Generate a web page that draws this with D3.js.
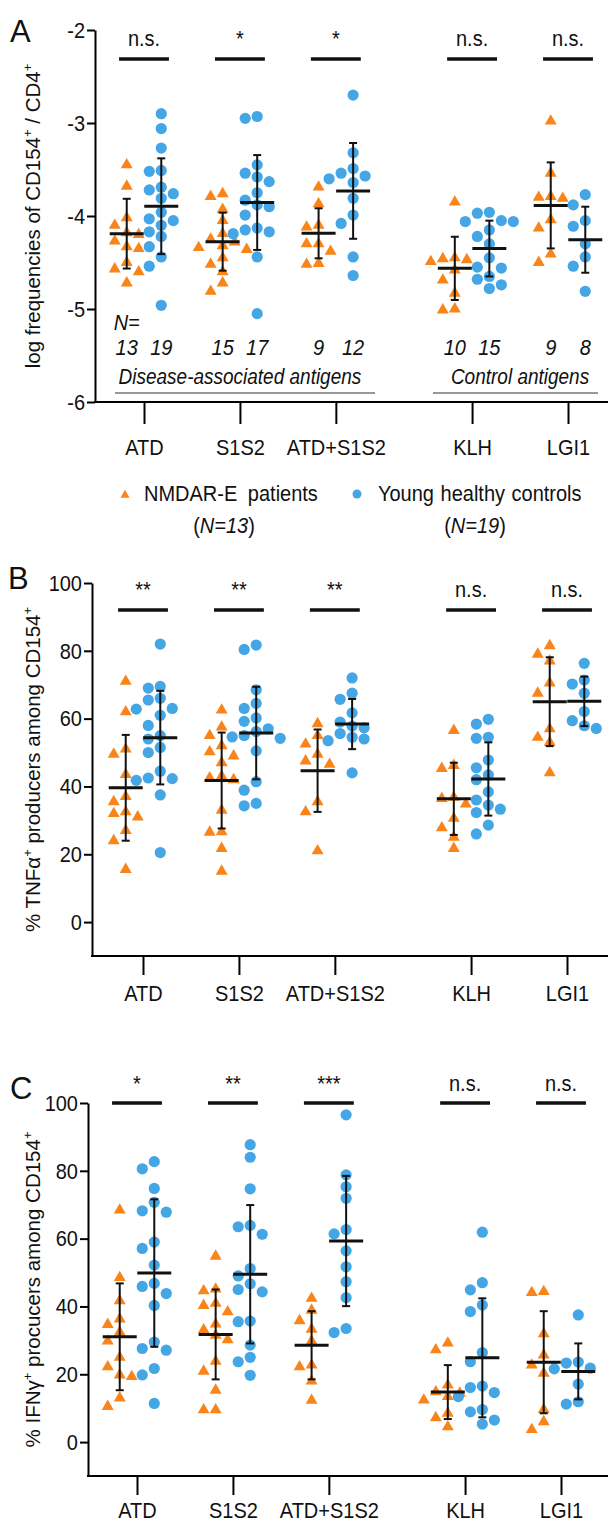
<!DOCTYPE html>
<html>
<head>
<meta charset="utf-8">
<script src="https://cdn.jsdelivr.net/npm/d3@7"></script>
<style>
  body { margin: 0; background: #fff; }
  svg { display: block; font-family: "Liberation Sans", Arial, sans-serif; }
</style>
</head>
<body>
<div id="chart"></div>
<script>
const antigens = ["ATD", "S1S2", "ATD+S1S2", "KLH", "LGI1"];
const nPatients = [13, 15, 9, 10, 9];
const nControls = [19, 17, 12, 15, 8];

// A: log frequencies of CD154+ / CD4+
const freqPatients = [
  [-3.45, -3.68, -4.02, -4.10, -4.18, -4.20, -4.27, -4.33, -4.35, -4.50, -4.57, -4.60, -4.72],
  [-3.76, -3.79, -3.93, -4.05, -4.19, -4.25, -4.28, -4.32, -4.34, -4.36, -4.45, -4.52, -4.60, -4.72, -4.81],
  [-3.69, -3.87, -4.10, -4.12, -4.30, -4.30, -4.38, -4.51, -4.52],
  [-3.85, -4.45, -4.46, -4.47, -4.49, -4.58, -4.69, -4.83, -5.00, -5.01],
  [-2.98, -3.54, -3.79, -3.80, -3.81, -4.04, -4.13, -4.41, -4.50]
];
const freqControls = [
  [-2.90, -3.06, -3.27, -3.51, -3.52, -3.69, -3.72, -3.76, -3.81, -3.96, -4.03, -4.05, -4.10, -4.17, -4.22, -4.33, -4.44, -4.54, -4.96],
  [-2.93, -2.95, -3.45, -3.54, -3.58, -3.63, -3.75, -3.83, -3.88, -3.90, -3.99, -4.13, -4.15, -4.17, -4.19, -4.44, -5.05],
  [-2.70, -3.32, -3.49, -3.54, -3.57, -3.60, -3.64, -3.81, -3.99, -4.08, -4.44, -4.64],
  [-3.96, -3.97, -4.05, -4.06, -4.06, -4.15, -4.22, -4.30, -4.45, -4.55, -4.56, -4.65, -4.68, -4.74, -4.78],
  [-3.77, -3.88, -4.05, -4.11, -4.30, -4.44, -4.54, -4.81]
];
const freqPatientsMean = [-4.19, -4.276, -4.186, -4.563, -3.886];
const freqPatientsSD = [0.375, 0.312, 0.269, 0.34, 0.4625];
const freqControlsMean = [-3.895, -3.855, -3.73, -4.35, -4.255];
const freqControlsSD = [0.515, 0.51, 0.515, 0.30, 0.355];
const freqSig = ["n.s.", "*", "*", "n.s.", "n.s."];

// B: % TNFa+ producers among CD154+
const tnfPatients = [
  [71, 62, 51, 49.5, 43.5, 37, 35.5, 32.5, 32, 31, 27, 24, 15.5],
  [62.5, 57.5, 55, 52, 50.2, 49, 47, 43, 42.5, 42, 33, 26.6, 26.5, 21.7, 15],
  [58.5, 55, 52.5, 49.5, 47.5, 46.5, 35.5, 32.5, 21],
  [56.5, 46.2, 45.3, 36.8, 36.4, 34.8, 30.6, 27.8, 25, 21.7],
  [81.5, 79, 77, 70.5, 67.5, 57, 54.5, 53, 44]
];
const tnfControls = [
  [82, 69.5, 69, 66, 65.5, 63, 62.8, 61, 58, 55, 54, 51.5, 50, 44.5, 42.5, 42.3, 41.8, 37.5, 20.5],
  [81.7, 80.4, 68.5, 64.5, 63, 60.2, 59.2, 57, 56.2, 55, 54.6, 54.2, 50.5, 41.4, 38.9, 35, 34.3],
  [72, 67.5, 65.7, 61.7, 59, 57.8, 57.3, 55.6, 54.5, 54, 53.5, 44],
  [59.8, 58.4, 54.5, 54.2, 47.8, 45.5, 43.4, 42, 38.4, 36, 34.5, 33.3, 32.3, 28.6, 26],
  [76.3, 71.4, 70.2, 67.5, 62.1, 59.4, 57.9, 57.1]
];
const tnfPatientsMean = [39.6, 41.75, 44.65, 36.35, 65.0];
const tnfPatientsSD = [15.6, 14.15, 12.15, 10.65, 13.1];
const tnfControlsMean = [54.4, 55.75, 58.4, 42.2, 65.1];
const tnfControlsSD = [13.8, 13.65, 7.4, 10.8, 7.3];
const tnfSig = ["**", "**", "**", "n.s.", "n.s."];

// C: % IFNg+ producers among CD154+
const ifnPatients = [
  [68.4, 48.5, 41.7, 36.3, 34.7, 32.4, 29.8, 25, 22.2, 19.8, 19.3, 13, 10.5],
  [54.8, 45.1, 44.6, 40.9, 40.3, 38.4, 34.8, 33.1, 31.5, 30.2, 23.8, 20.9, 15.3, 9.5, 9.5],
  [42.4, 38.9, 35.8, 33.3, 29.8, 22.7, 22.2, 18, 12.3],
  [29.2, 27.2, 16.8, 14.8, 14.4, 13.4, 12.4, 8.5, 7.2, 4.5],
  [44.4, 44.1, 31.9, 25.7, 22.7, 20.3, 9.6, 6, 3.7]
];
const ifnControls = [
  [82.7, 80.6, 74.8, 70.7, 68.2, 67.8, 59, 57.1, 52.2, 46.8, 45.9, 43.8, 40.3, 29.5, 27.6, 27.1, 21.7, 19.8, 11.4],
  [87.7, 84, 74.7, 63.9, 63.5, 61.3, 51.2, 49, 46.7, 45, 44.3, 35.7, 35.5, 28.6, 25, 23.7, 19.7],
  [96.5, 78.8, 75.3, 71.9, 62.7, 61.4, 56.4, 51.7, 47.3, 42.6, 33.5, 32.3],
  [61.9, 47, 44.9, 40.4, 38.5, 26.4, 23.7, 16.5, 16.1, 14.6, 13.4, 9.6, 8.9, 6.5, 5.3],
  [37.5, 23.6, 23.3, 21.8, 21.6, 17.1, 11.9, 11.2]
];
const ifnPatientsMean = [31.05, 31.75, 28.55, 14.75, 23.55];
const ifnPatientsSD = [15.75, 13.25, 10.05, 7.95, 15.05];
const ifnControlsMean = [49.85, 49.5, 59.3, 24.85, 20.85];
const ifnControlsSD = [21.75, 20.4, 19.2, 17.55, 8.25];
const ifnSig = ["*", "**", "***", "n.s.", "n.s."];

const orange = "#f8841a";
const blue = "#45a6e5";
const fontSize = 20;
const vStretch = 1.14; // text in the figure is a bit taller than Arial

const panels = [
  {
    letter: "A", letterX: 10, letterY: 42,
    patients: freqPatients, controls: freqControls,
    pMean: freqPatientsMean, pSD: freqPatientsSD, cMean: freqControlsMean, cSD: freqControlsSD,
    sig: freqSig,
    title: [["log frequencies of CD154"], ["+", true], [" / CD4"], ["+", true]],
    yDomain: [-6, -2], yTicks: [-6, -5, -4, -3, -2],
    top: 30, bottom: 402, axisX: 95, x0: 144, x1: 568,
    tickLen: 22, labelPad: 15, sigBar: 29, sigText: 16, showN: true
  },
  {
    letter: "B", letterX: 8, letterY: 589,
    patients: tnfPatients, controls: tnfControls,
    pMean: tnfPatientsMean, pSD: tnfPatientsSD, cMean: tnfControlsMean, cSD: tnfControlsSD,
    sig: tnfSig,
    title: [["% TNF"], ["\u03b1"], ["+", true], [" producers among CD154"], ["+", true]],
    yDomain: [-10, 100], yTicks: [0, 20, 40, 60, 80, 100],
    top: 583, bottom: 956, axisX: 92, x0: 143, x1: 567,
    tickLen: 19, labelPad: 10, sigBar: 27, sigText: 14, showN: false
  },
  {
    letter: "C", letterX: 10, letterY: 1099,
    patients: ifnPatients, controls: ifnControls,
    pMean: ifnPatientsMean, pSD: ifnPatientsSD, cMean: ifnControlsMean, cSD: ifnControlsSD,
    sig: ifnSig,
    title: [["% IFN"], ["\u03b3"], ["+", true], [" procucers among CD154"], ["+", true]],
    yDomain: [-10, 100], yTicks: [0, 20, 40, 60, 80, 100],
    top: 1103, bottom: 1476, axisX: 88, x0: 137, x1: 561,
    tickLen: 19, labelPad: 7, sigBar: 0, sigText: -12, showN: false
  }
];

const svg = d3.select("#chart").append("svg")
  .attr("width", 608)
  .attr("height", 1525);

// move x/y into a transform so the glyphs can be stretched vertically
function stretch(sel) {
  sel.each(function () {
    let t = d3.select(this);
    let x = +t.attr("x") || 0;
    let y = +t.attr("y") || 0;
    t.attr("x", 0).attr("y", 0)
      .attr("transform", "translate(" + x + "," + y + ") scale(1," + vStretch + ")");
  });
}

// simple beeswarm: put each point in the nearest free column
function swarm(values, y, step, diam) {
  let placed = [];
  return values.map(v => {
    let py = y(v);
    for (let k of [0, -1, 1, -2, 2, -3, 3]) {
      let px = k * step;
      if (placed.every(p => Math.hypot(p.x - px, p.y - py) >= diam)) {
        placed.push({ x: px, y: py });
        return { v: v, dx: px };
      }
    }
    return { v: v, dx: 0 };
  });
}

function drawPanel(p) {
  let g = svg.append("g");

  let y = d3.scaleLinear().domain(p.yDomain).range([p.bottom, p.top]);
  let x = d3.scaleLinear().domain([0, 4.42]).range([p.x0, p.x1]);
  let pos = i => i + (i > 2 ? 0.42 : 0);
  let off = 0.18;

  // y axis
  let yAxis = g.append("g")
    .attr("transform", "translate(" + p.axisX + ",0)")
    .call(d3.axisLeft(y).tickValues(p.yTicks).tickSize(8).tickSizeOuter(0).tickPadding(2)
      .tickFormat(d => String(d)));
  yAxis.select(".domain").attr("stroke-width", 2);
  yAxis.selectAll(".tick line").attr("stroke-width", 2);
  yAxis.selectAll(".tick text").attr("font-size", fontSize).attr("fill", "#111")
    .attr("font-family", "Liberation Sans, Arial, sans-serif")
    .call(stretch);

  // x axis
  let xAxis = g.append("g")
    .attr("transform", "translate(0," + p.bottom + ")")
    .call(d3.axisBottom(x).tickValues(antigens.map((d, i) => pos(i)))
      .tickFormat((d, i) => antigens[i])
      .tickSize(p.tickLen).tickSizeOuter(0).tickPadding(p.labelPad));
  xAxis.select(".domain").remove();
  xAxis.selectAll(".tick line").attr("stroke-width", 2);
  xAxis.selectAll(".tick text").attr("font-size", fontSize).attr("fill", "#111")
    .attr("font-family", "Liberation Sans, Arial, sans-serif")
    .call(stretch);
  g.append("line")
    .attr("x1", p.axisX - 1).attr("x2", 608)
    .attr("y1", p.bottom).attr("y2", p.bottom)
    .attr("stroke", "#000").attr("stroke-width", 2);

  // y title
  let title = g.append("text")
    .attr("transform", "translate(40," + ((p.top + p.bottom) / 2) + ") rotate(-90)")
    .attr("text-anchor", "middle")
    .attr("font-size", 20.5)
    .attr("fill", "#111");
  let raised = false;
  p.title.forEach(part => {
    let t = title.append("tspan").text(part[0]);
    if (part[1]) {
      t.attr("font-size", 13).attr("dy", -8);
      raised = true;
    } else if (raised) {
      t.attr("dy", 8);
      raised = false;
    }
  });

  // panel letter
  g.append("text")
    .attr("x", p.letterX).attr("y", p.letterY)
    .attr("font-size", 31)
    .attr("fill", "#111")
    .text(p.letter);

  // points
  antigens.forEach((a, i) => {
    let cxP = x(pos(i) - off);
    let cxC = x(pos(i) + off);

    g.selectAll(null)
      .data(swarm(p.patients[i], y, 12, 11))
      .join("path")
      .attr("d", d3.symbol(d3.symbolTriangle, 62))
      .attr("transform", d => "translate(" + (cxP + d.dx) + "," + y(d.v) + ")")
      .attr("fill", orange);

    g.selectAll(null)
      .data(swarm(p.controls[i], y, 12, 11))
      .join("circle")
      .attr("cx", d => cxC + d.dx)
      .attr("cy", d => y(d.v))
      .attr("r", 5.6)
      .attr("fill", blue);

    // mean +/- SD
    [[cxP, p.pMean[i], p.pSD[i]], [cxC, p.cMean[i], p.cSD[i]]].forEach(s => {
      let [cx, m, sd] = s;
      g.append("line")
        .attr("x1", cx).attr("x2", cx)
        .attr("y1", y(m + sd)).attr("y2", y(m - sd))
        .attr("stroke", "#111").attr("stroke-width", 2);
      [m + sd, m - sd].forEach(v => {
        g.append("line")
          .attr("x1", cx - 4).attr("x2", cx + 4)
          .attr("y1", y(v)).attr("y2", y(v))
          .attr("stroke", "#111").attr("stroke-width", 2);
      });
      g.append("line")
        .attr("x1", cx - 17).attr("x2", cx + 17)
        .attr("y1", y(m)).attr("y2", y(m))
        .attr("stroke", "#111").attr("stroke-width", 3);
    });

    // significance
    g.append("line")
      .attr("x1", x(pos(i) - 0.26)).attr("x2", x(pos(i) + 0.26))
      .attr("y1", p.top + p.sigBar).attr("y2", p.top + p.sigBar)
      .attr("stroke", "#111").attr("stroke-width", 3.5);
    g.append("text")
      .attr("x", x(pos(i)))
      .attr("y", p.top + p.sigText)
      .attr("text-anchor", "middle")
      .attr("font-size", fontSize)
      .attr("fill", "#111")
      .text(p.sig[i])
      .call(stretch);

    if (p.showN) {
      g.append("text")
        .attr("x", cxP).attr("y", 355)
        .attr("text-anchor", "middle").attr("font-size", fontSize)
        .attr("font-style", "italic").attr("fill", "#111")
        .text(nPatients[i])
        .call(stretch);
      g.append("text")
        .attr("x", cxC).attr("y", 355)
        .attr("text-anchor", "middle").attr("font-size", fontSize)
        .attr("font-style", "italic").attr("fill", "#111")
        .text(nControls[i])
        .call(stretch);
    }
  });

  if (p.showN) {
    g.append("text")
      .attr("x", x(-off)).attr("y", 330)
      .attr("text-anchor", "middle").attr("font-size", fontSize)
      .attr("font-style", "italic").attr("fill", "#111")
      .text("N=")
      .call(stretch);

    let groups = [
      { label: "Disease-associated antigens", from: 0, to: 2, x1: 115, x2: 375 },
      { label: "Control antigens", from: 3, to: 4, x1: 433, x2: 598 }
    ];
    groups.forEach(gr => {
      g.append("text")
        .attr("x", (x(pos(gr.from)) + x(pos(gr.to))) / 2)
        .attr("y", 384)
        .attr("text-anchor", "middle").attr("font-size", fontSize - 1)
        .attr("font-style", "italic").attr("fill", "#111")
        .text(gr.label)
        .call(stretch);
      g.append("line")
        .attr("x1", gr.x1).attr("x2", gr.x2)
        .attr("y1", 393).attr("y2", 393)
        .attr("stroke", "#333").attr("stroke-width", 1.2);
    });
  }
}

panels.forEach(p => drawPanel(p));

// legend
let legend = svg.append("g").attr("font-size", fontSize).attr("fill", "#111");
let items = [
  { name: "NMDAR-E patients", n: nPatients[0], sx: 125, tx: 144, nx: 224, shape: "tri" },
  { name: "Young healthy controls", n: nControls[0], sx: 357, tx: 378, nx: 475, shape: "dot" }
];
items.forEach(it => {
  if (it.shape === "tri") {
    legend.append("path")
      .attr("d", d3.symbol(d3.symbolTriangle, 36))
      .attr("transform", "translate(" + it.sx + ",495)")
      .attr("fill", orange);
  } else {
    legend.append("circle")
      .attr("cx", it.sx).attr("cy", 494).attr("r", 4.5)
      .attr("fill", blue);
  }
  legend.append("text")
    .attr("x", it.tx).attr("y", 501)
    .attr("word-spacing", it.shape === "tri" ? 5 : 1)
    .text(it.name)
    .call(stretch);
  let t = legend.append("text")
    .attr("x", it.nx).attr("y", 533)
    .attr("text-anchor", "middle");
  t.append("tspan").text("(");
  t.append("tspan").attr("font-style", "italic").text("N=" + it.n);
  t.append("tspan").text(")");
  t.call(stretch);
});
</script>
</body>
</html>
